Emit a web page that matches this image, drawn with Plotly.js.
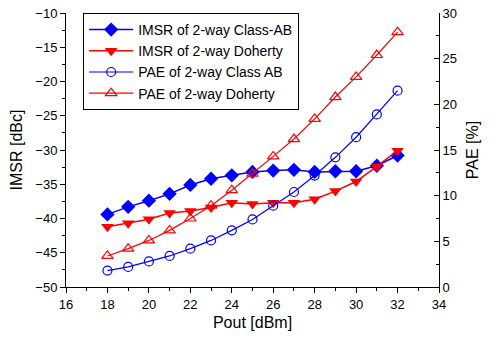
<!DOCTYPE html>
<html>
<head>
<meta charset="utf-8">
<script src="https://cdn.plot.ly/plotly-3.0.1.min.js"></script>
<style>html,body{margin:0;padding:0;background:#fff;}#chart{width:491px;height:345px;}</style>
</head>
<body>
<div id="chart"></div>
<script>
const pout = [18, 19, 20, 21, 22, 23, 24, 25, 26, 27, 28, 29, 30, 31, 32];
const imsrClassAB = [-39.4, -38.3, -37.4, -36.4, -35.1, -34.2, -33.7, -33.2, -33.0, -32.9, -33.2, -33.1, -33.1, -32.3, -30.8];
const imsrDoherty = [-41.2, -40.7, -40.1, -39.2, -38.9, -38.4, -37.7, -37.9, -37.7, -37.7, -37.2, -36.0, -34.6, -32.4, -30.1];
const paeClassAB = [1.8, 2.2, 2.8, 3.4, 4.2, 5.1, 6.2, 7.4, 8.9, 10.4, 12.2, 14.2, 16.4, 18.9, 21.5];
const paeDoherty = [3.4, 4.2, 5.1, 6.2, 7.5, 8.9, 10.6, 12.4, 14.3, 16.2, 18.4, 20.8, 23.0, 25.4, 27.9];
const seriesNames = ["IMSR of 2-way Class-AB", "IMSR of 2-way Doherty", "PAE of 2-way Class AB", "PAE of 2-way Doherty"];

const blue = "#0000ff", red = "#ff0000";
const font = "Arial";

const traces = [
  {x: pout, y: imsrClassAB, name: seriesNames[0], mode: "lines+markers", yaxis: "y",
   line: {color: blue, width: 1.5}, marker: {symbol: "diamond", size: 11, color: blue}},
  {x: pout, y: imsrDoherty, name: seriesNames[1], mode: "lines+markers", yaxis: "y",
   line: {color: red, width: 1.5}, marker: {symbol: "triangle-down", size: 11, color: red}},
  {x: pout, y: paeClassAB, name: seriesNames[2], mode: "lines+markers", yaxis: "y2",
   line: {color: blue, width: 1.2}, marker: {symbol: "circle-open", size: 9, color: blue, line: {width: 1.2}}},
  {x: pout, y: paeDoherty, name: seriesNames[3], mode: "lines+markers", yaxis: "y2",
   line: {color: red, width: 1.2}, marker: {symbol: "triangle-up-open", size: 10, color: red, line: {width: 1.2}}}
];

const layout = {
  width: 491, height: 345,
  margin: {l: 66, r: 52, t: 13, b: 58},
  paper_bgcolor: "#fff", plot_bgcolor: "#fff",
  font: {family: font, size: 12, color: "#000"},
  showlegend: true,
  legend: {x: 0.046, y: 1, xanchor: "left", yanchor: "top", bordercolor: "#000", borderwidth: 1,
           bgcolor: "#fff", font: {family: font, size: 14, color: "#000"}, tracegroupgap: 0, itemwidth: 44},
  xaxis: {range: [16, 34], dtick: 2, tick0: 16, showgrid: false, zeroline: false,
          showline: true, linecolor: "#000", linewidth: 1, ticks: "outside", ticklen: 5, tickcolor: "#000",
          minor: {dtick: 1, ticks: "outside", ticklen: 3, tickcolor: "#000"},
          tickfont: {size: 13}, title: {text: "Pout [dBm]", font: {size: 16}, standoff: 6}},
  yaxis: {range: [-50, -10], dtick: 5, tick0: -50, showgrid: false, zeroline: false,
          showline: true, linecolor: "#000", linewidth: 1, ticks: "outside", ticklen: 5, tickcolor: "#000",
          minor: {dtick: 2.5, ticks: "outside", ticklen: 3, tickcolor: "#000"},
          tickfont: {size: 13}, title: {text: "IMSR [dBc]", font: {size: 16}, standoff: 8}},
  yaxis2: {range: [0, 30], dtick: 5, tick0: 0, overlaying: "y", side: "right", showgrid: false, zeroline: false,
           showline: true, linecolor: "#000", linewidth: 1, ticks: "inside", ticklen: 5, tickcolor: "#000",
           minor: {dtick: 2.5, ticks: "inside", ticklen: 3, tickcolor: "#000"},
           tickfont: {size: 13}, title: {text: "PAE [%]", font: {size: 16}, standoff: 10}}
};

Plotly.newPlot("chart", traces, layout, {displayModeBar: false, staticPlot: true});
</script>
</body>
</html>
